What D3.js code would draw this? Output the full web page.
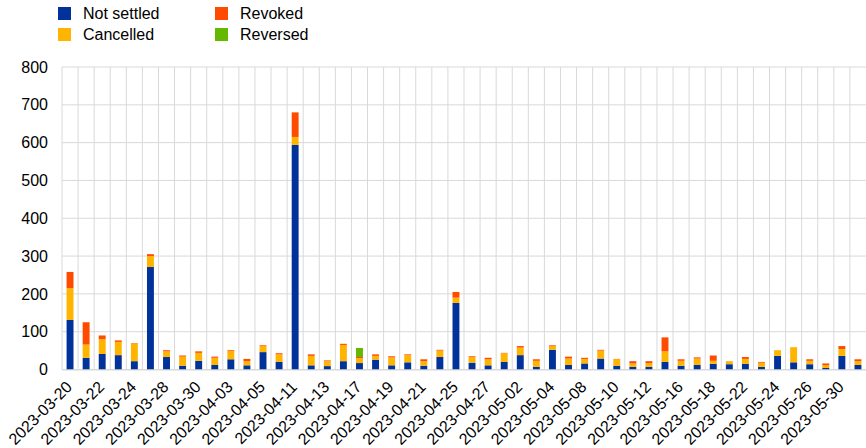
<!DOCTYPE html>
<html>
<head>
  <meta charset="UTF-8">
  <script src="https://d3js.org/d3.v7.min.js"></script>
  <style>
    body { margin: 0; background: #fff; }
    text { font-family: "Liberation Sans", Arial, sans-serif; fill: #000; }
  </style>
</head>
<body>
<script>
// business days shown on the chart
var dates = [
  "2023-03-20","2023-03-21","2023-03-22","2023-03-23","2023-03-24","2023-03-27","2023-03-28","2023-03-29","2023-03-30","2023-03-31",
  "2023-04-03","2023-04-04","2023-04-05","2023-04-06","2023-04-11","2023-04-12","2023-04-13","2023-04-14","2023-04-17","2023-04-18",
  "2023-04-19","2023-04-20","2023-04-21","2023-04-24","2023-04-25","2023-04-26","2023-04-27","2023-04-28","2023-05-02","2023-05-03",
  "2023-05-04","2023-05-05","2023-05-08","2023-05-09","2023-05-10","2023-05-11","2023-05-12","2023-05-15","2023-05-16","2023-05-17",
  "2023-05-18","2023-05-19","2023-05-22","2023-05-23","2023-05-24","2023-05-25","2023-05-26","2023-05-29","2023-05-30","2023-05-31"
];

var notSettled = [131,31,41,38,22,271,33,10,23,12, 27,11,46,20,594,11,9,22,17,26, 11,19,10,33,176,18,11,20,38,7, 52,12,16,29,10,7,7,20,10,12, 15,14,15,7,36,19,14,4,36,12];
var cancelled  = [84,35,39,35,47,29,15,24,21,19, 22,11,16,20,21,25,13,43,13,10, 21,19,12,17,14,15,16,23,20,16, 10,17,12,21,17,9,10,28,13,17, 8,8,13,11,15,40,9,7,18,10];
var revoked    = [43,59,10,4,1,5,3,3,4,3, 2,6,2,3,65,4,2,3,3,4, 3,2,5,2,15,2,4,1,4,4, 2,5,3,2,1,6,5,37,4,3, 14,0,5,2,0,0,4,5,8,5];
var reversed   = [0,0,0,0,0,0,0,0,0,0, 0,0,0,0,0,0,0,0,24,0, 0,0,0,0,0,0,0,0,0,0, 0,0,0,0,0,0,0,0,0,0, 0,0,0,0,0,0,0,0,0,0];

var yTicks = [0,100,200,300,400,500,600,700,800];

var seriesNames = ["Not settled", "Cancelled", "Revoked", "Reversed"];
var colors = ["#003299", "#FFB400", "#FF4B00", "#65B800"];

var W = 866, H = 448;
var margin = { top: 67, right: 0, bottom: 78.5, left: 62 };
var width = W - margin.left - margin.right,
    height = H - margin.top - margin.bottom;

var rows = dates.map(function (d, i) {
  return { date: d, "Not settled": notSettled[i], "Cancelled": cancelled[i], "Revoked": revoked[i], "Reversed": reversed[i] };
});

var stack = d3.stack().keys(seriesNames)(rows);

var x = d3.scaleBand().domain(dates).range([0, width]).paddingInner(0.57).paddingOuter(0.285);
var xGrid = d3.scaleBand().domain(dates).range([0, width]);
var y = d3.scaleLinear().domain([0, 800]).range([height, 0]);

var svg = d3.select("body").append("svg")
  .attr("width", W).attr("height", H);

var g = svg.append("g").attr("transform", "translate(" + margin.left + "," + margin.top + ")");

// horizontal gridlines
g.selectAll(".hgrid").data(yTicks).enter().append("line")
  .attr("x1", 0).attr("x2", width)
  .attr("y1", function (d) { return y(d); }).attr("y2", function (d) { return y(d); })
  .attr("stroke", "#d9d9d9").attr("stroke-width", 1);

// vertical gridlines at band boundaries
g.selectAll(".vgrid").data(dates).enter().append("line")
  .attr("x1", function (d) { return xGrid(d); }).attr("x2", function (d) { return xGrid(d); })
  .attr("y1", 0).attr("y2", height)
  .attr("stroke", "#d9d9d9").attr("stroke-width", 1);

// bars
g.selectAll(".layer").data(stack).enter().append("g")
  .attr("fill", function (d, i) { return colors[i]; })
  .selectAll("rect").data(function (d) { return d; }).enter().append("rect")
  .attr("x", function (d) { return x(d.data.date); })
  .attr("width", x.bandwidth())
  .attr("y", function (d) { return y(d[1]); })
  .attr("height", function (d) { return Math.max(0, y(d[0]) - y(d[1])); });

// y axis
var yAxis = g.append("g").call(d3.axisLeft(y).tickValues(yTicks).tickSize(0).tickPadding(14));
yAxis.select(".domain").remove();
yAxis.selectAll("text").style("font-size", "16px").attr("fill", "#000");

// x axis
var xAxis = g.append("g").attr("transform", "translate(0," + height + ")")
  .call(d3.axisBottom(x).tickValues(dates.filter(function (d, i) { return i % 2 === 0; })).tickSize(0));
xAxis.select(".domain").attr("stroke", "#d9d9d9");
xAxis.selectAll("text")
  .style("font-size", "16px")
  .attr("fill", "#000")
  .attr("text-anchor", "end")
  .attr("transform", "translate(3,18.5) rotate(-45)")
  .attr("dy", 0)
  .attr("y", 0);

// legend
var legend = svg.append("g");
seriesNames.forEach(function (name, i) {
  var col = Math.floor(i / 2), row = i % 2;
  var lx = 58 + col * 157, ly = 7 + row * 21;
  legend.append("rect").attr("x", lx).attr("y", ly).attr("width", 13).attr("height", 13).attr("fill", colors[i]);
  legend.append("text").attr("x", lx + 25).attr("y", ly + 12).style("font-size", "16px").text(name);
});
</script>
</body>
</html>
